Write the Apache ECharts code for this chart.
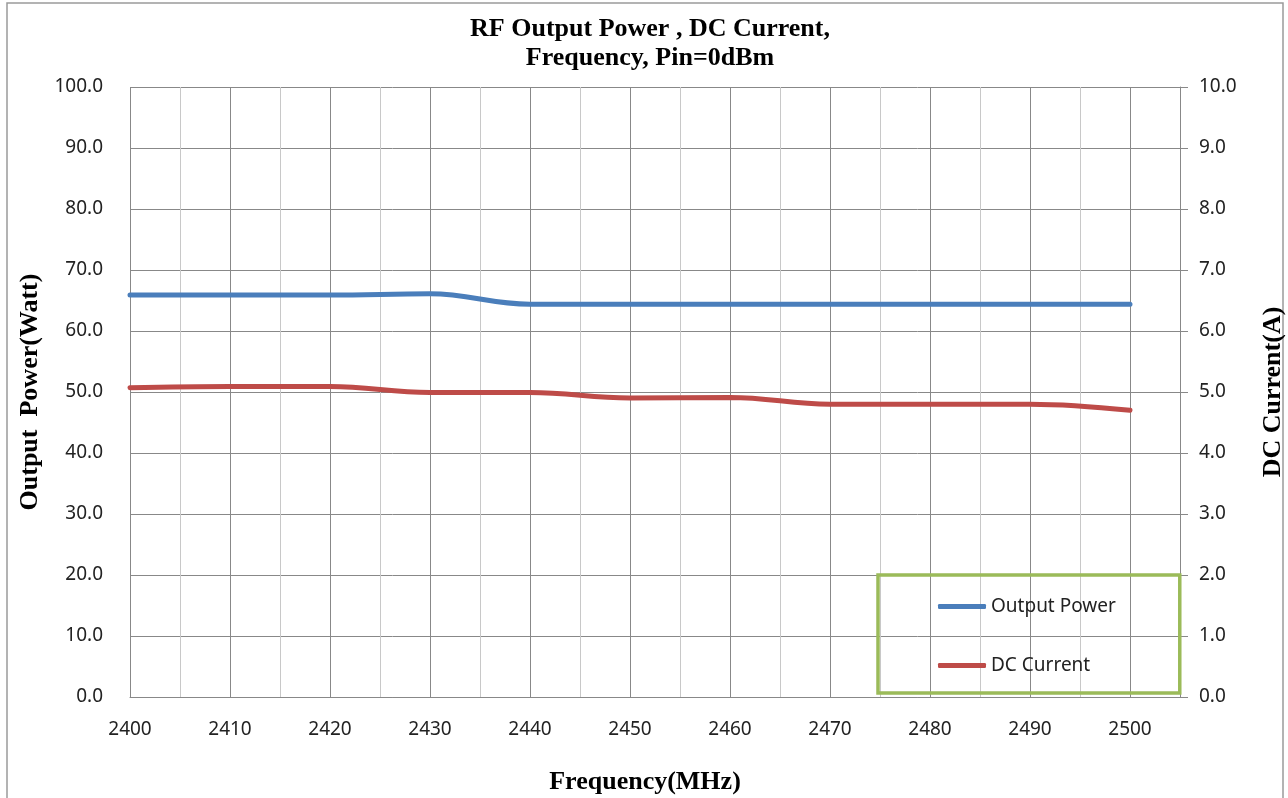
<!DOCTYPE html>
<html>
<head>
<meta charset="utf-8">
<script src="https://cdn.jsdelivr.net/npm/echarts@6/dist/echarts.min.js"></script>
<style>
html,body{margin:0;padding:0;background:#fff;}
#chart{width:1288px;height:798px;}
</style>
</head>
<body>
<div id="chart"></div>
<script>
// Data
const frequencies = [2400, 2410, 2420, 2430, 2440, 2450, 2460, 2470, 2480, 2490, 2500];
const outputPower = [65.9, 65.9, 65.9, 66.1, 64.4, 64.4, 64.4, 64.4, 64.4, 64.4, 64.4];
const dcCurrent  = [5.07, 5.09, 5.09, 4.99, 4.99, 4.90, 4.91, 4.80, 4.80, 4.80, 4.70];
const titleText = 'RF Output Power , DC Current,\nFrequency, Pin=0dBm';
const seriesNames = ['Output Power', 'DC Current'];

const chart = echarts.init(document.getElementById('chart'));
const sans = 'Noto Sans';
const serif = 'Liberation Serif';
const gridColor = '#888888';
const minorColor = '#c8c8c8';

chart.setOption({
  animation: false,
  backgroundColor: '#fff',
  graphic: [{
    type: 'rect', silent: true,
    shape: { x: 7, y: 3, width: 1276, height: 810 },
    style: { fill: 'none', stroke: '#9a9a9a', lineWidth: 1.5 }
  }],
  title: {
    text: titleText,
    left: 650,
    textAlign: 'center',
    top: 15,
    padding: 0,
    textStyle: { fontFamily: serif, fontWeight: 'bold', fontSize: 26, lineHeight: 29, color: '#000' }
  },
  legend: {
    left: 878,
    top: 575,
    orient: 'vertical',
    padding: [22, 64, 18, 60],
    itemGap: 40,
    itemWidth: 48,
    itemHeight: 5,
    icon: 'roundRect',
    borderColor: '#9bbb59',
    borderWidth: 3.5,
    textStyle: { fontFamily: sans, fontSize: 19, color: '#222' },
    data: seriesNames
  },
  grid: { left: 130, right: 108, top: 87, bottom: 101, containLabel: false, outerBoundsMode: 'none' },
  xAxis: {
    type: 'value',
    min: 2400, max: 2505, interval: 5,
    name: 'Frequency(MHz)',
    nameLocation: 'middle',
    nameGap: 72,
    nameTextStyle: { fontFamily: serif, fontWeight: 'bold', fontSize: 26, color: '#000', padding: [0, 20, 0, 0] },
    axisLine: { show: true, lineStyle: { color: gridColor, width: 1 } },
    axisTick: { show: false },
    axisLabel: {
      fontFamily: sans, fontSize: 19, color: '#222', margin: 23,
      formatter: v => (v % 10 === 0 && v <= 2500) ? String(v) : ''
    },
    splitLine: { show: true, lineStyle: { color: [gridColor, minorColor], width: 1 } }
  },
  yAxis: [{
    type: 'value',
    min: 0, max: 100, interval: 10,
    name: 'Output  Power(Watt)',
    nameLocation: 'middle',
    nameRotate: 90,
    nameGap: 87,
    nameTextStyle: { fontFamily: serif, fontWeight: 'bold', fontSize: 26, color: '#000' },
    axisLine: { show: false },
    axisTick: { show: false },
    axisLabel: { fontFamily: sans, fontSize: 19, color: '#222', margin: 27, formatter: v => v.toFixed(1) },
    splitLine: { show: true, lineStyle: { color: gridColor, width: 1 } }
  }, {
    type: 'value',
    position: 'right',
    min: 0, max: 10, interval: 1,
    name: 'DC Current(A)',
    nameLocation: 'middle',
    nameRotate: 90,
    nameGap: 80,
    nameTextStyle: { fontFamily: serif, fontWeight: 'bold', fontSize: 26, color: '#000' },
    axisLine: { show: true, lineStyle: { color: gridColor, width: 1 } },
    axisTick: { show: true, inside: false, length: 8, lineStyle: { color: gridColor } },
    axisLabel: { fontFamily: sans, fontSize: 19, color: '#222', margin: 19, formatter: v => v.toFixed(1) },
    splitLine: { show: false }
  }],
  series: [{
    name: seriesNames[0],
    type: 'line',
    yAxisIndex: 0,
    data: frequencies.map((f, i) => [f, outputPower[i]]),
    smooth: 0.4,
    symbol: 'none',
    lineStyle: { color: '#4a7ebb', width: 5, cap: 'round' },
    itemStyle: { color: '#4a7ebb' }
  }, {
    name: seriesNames[1],
    type: 'line',
    yAxisIndex: 1,
    data: frequencies.map((f, i) => [f, dcCurrent[i]]),
    smooth: 0.4,
    symbol: 'none',
    lineStyle: { color: '#be4b48', width: 5, cap: 'round' },
    itemStyle: { color: '#be4b48' }
  }]
});
</script>
</body>
</html>
